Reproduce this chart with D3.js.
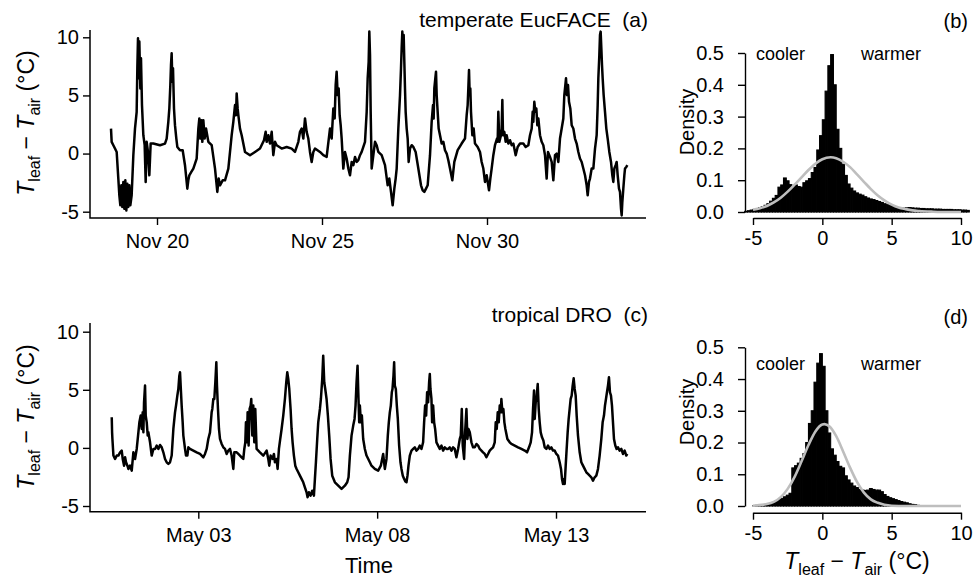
<!DOCTYPE html>
<html>
<head>
<meta charset="utf-8">
<script src="https://cdn.jsdelivr.net/npm/d3@7"></script>
<style>
body { margin: 0; background: #fff; }
svg { font-family: "Liberation Sans", Arial, sans-serif; }
.axis text { font-size: 20px; fill: #000; }
.axis line, .axis path { stroke: #000; stroke-width: 1.4; }
</style>
</head>
<body>
<svg id="svg" width="973" height="578"></svg>
<script>
// (a) temperate EucFACE: day of November (31+ = December), leaf minus air temperature
const eucDay = [18.606, 18.626, 18.677, 18.727, 18.778, 18.828, 18.859, 18.889, 18.919, 18.949, 18.980, 19.010, 19.040, 19.071, 19.101, 19.131, 19.162, 19.192, 19.232, 19.283,
    19.333, 19.384, 19.404, 19.424, 19.444, 19.465, 19.495, 19.515, 19.545, 19.586, 19.626, 19.657, 19.687, 19.727, 19.768, 19.808, 19.889, 20.091, 20.242, 20.293,
    20.343, 20.374, 20.404, 20.424, 20.444, 20.465, 20.485, 20.515, 20.545, 20.586, 20.616, 20.697, 20.778, 20.848, 20.919, 20.949, 20.980, 21.040, 21.101, 21.152,
    21.202, 21.253, 21.283, 21.313, 21.343, 21.374, 21.404, 21.444, 21.485, 21.556, 21.657, 21.758, 21.828, 21.869, 21.909, 21.990, 22.061, 22.162, 22.263, 22.313,
    22.364, 22.394, 22.414, 22.444, 22.465, 22.515, 22.566, 22.667, 22.818, 22.970, 23.121, 23.242, 23.293, 23.323, 23.374, 23.424, 23.475, 23.525, 23.576, 23.626,
    23.778, 23.929, 24.081, 24.182, 24.283, 24.333, 24.384, 24.434, 24.485, 24.535, 24.586, 24.636, 24.687, 24.737, 24.788, 24.939, 25.040, 25.141, 25.242, 25.293,
    25.343, 25.384, 25.414, 25.444, 25.475, 25.505, 25.535, 25.566, 25.596, 25.646, 25.697, 25.747, 25.798, 25.848, 25.899, 25.949, 26.000, 26.051, 26.101, 26.152,
    26.202, 26.253, 26.303, 26.354, 26.384, 26.414, 26.434, 26.455, 26.475, 26.505, 26.556, 26.606, 26.657, 26.707, 26.808, 26.909, 26.990, 27.040, 27.091, 27.141,
    27.192, 27.232, 27.263, 27.313, 27.364, 27.394, 27.414, 27.434, 27.455, 27.475, 27.495, 27.515, 27.535, 27.566, 27.596, 27.626, 27.667, 27.717, 27.768, 27.838,
    27.919, 28.000, 28.051, 28.101, 28.152, 28.202, 28.273, 28.323, 28.364, 28.384, 28.404, 28.434, 28.455, 28.475, 28.505, 28.535, 28.576, 28.626, 28.677, 28.727,
    28.778, 28.828, 28.879, 28.949, 29.010, 29.111, 29.232, 29.333, 29.384, 29.414, 29.434, 29.455, 29.475, 29.495, 29.515, 29.556, 29.596, 29.636, 29.717, 29.788,
    29.838, 29.889, 29.939, 29.990, 30.061, 30.101, 30.141, 30.192, 30.242, 30.303, 30.323, 30.343, 30.374, 30.424, 30.444, 30.465, 30.485, 30.525, 30.566, 30.596,
    30.646, 30.697, 30.747, 30.798, 30.869, 30.929, 31.000, 31.101, 31.172, 31.253, 31.303, 31.354, 31.384, 31.404, 31.434, 31.465, 31.495, 31.525, 31.556, 31.606,
    31.657, 31.707, 31.758, 31.808, 31.848, 31.909, 31.960, 32.010, 32.061, 32.111, 32.162, 32.212, 32.263, 32.313, 32.343, 32.374, 32.394, 32.424, 32.455, 32.485,
    32.525, 32.566, 32.616, 32.667, 32.717, 32.768, 32.818, 32.869, 32.919, 32.970, 33.020, 33.051, 33.091, 33.121, 33.172, 33.222, 33.273, 33.323, 33.354, 33.374,
    33.404, 33.424, 33.444, 33.465, 33.485, 33.505, 33.535, 33.576, 33.616, 33.657, 33.707, 33.758, 33.798, 33.828, 33.859, 33.899, 33.929, 33.960, 34.000, 34.030,
    34.061, 34.081, 34.101, 34.131, 34.162, 34.182, 34.222, 34.253];
const eucDiff = [2.15, 1.01, 0.72, 0.43, 0.14, -2.15, -3.59, -4.45, -2.73, -4.60, -2.44, -4.74, -2.30, -4.89, -2.59, -4.60, -2.73, -4.45, -3.59, -0.14,
    2.15, 3.59, 7.33, 9.91, 6.47, 9.63, 5.60, 8.19, 4.17, 1.58, 0.72, -2.44, 1.01, 0.14, -1.87, 0.86, 0.86, 0.72, 0.86, 1.29,
    2.73, 3.88, 5.89, 7.62, 8.62, 6.18, 7.33, 3.88, 2.44, 1.29, 0.57, 0.29, 0.29, -1.00, -3.02, -2.30, -1.87, -1.58, -1.29, -0.86,
    -0.43, 2.15, 3.02, 1.29, 2.87, 1.01, 2.87, 1.29, 2.15, 1.01, 0.72, -1.29, -3.30, -2.15, -2.73, -2.30, -2.30, -1.29, 1.58, 2.73,
    4.17, 3.30, 5.17, 3.88, 3.30, 2.15, 1.58, 0.14, -0.14, 0.14, 0.43, 1.15, 1.87, 1.01, 1.58, 0.86, 1.87, -0.14, 1.01, 0.72,
    0.43, 0.57, 0.43, 0.14, 1.01, 1.87, 2.15, 1.29, 3.02, 1.87, 1.29, 0.14, -0.72, 0.14, 0.43, 0.14, -0.14, -0.29, 2.15, 1.29,
    3.88, 3.02, 5.89, 7.04, 5.03, 5.60, 3.30, 2.44, 1.29, -1.29, 0.14, -0.43, -1.29, -1.87, -0.72, -1.00, -0.29, -0.72, -0.57, -0.14,
    0.14, 0.57, 1.01, 3.59, 6.47, 7.90, 10.49, 8.48, 3.59, -1.29, -0.14, 1.01, 0.72, 0.14, -0.14, -1.00, -2.73, -2.15, -3.30, -4.45,
    -3.02, -2.15, -1.29, 2.15, 5.03, 7.33, 9.05, 10.49, 9.05, 10.20, 7.90, 5.60, 3.59, 2.15, 1.29, -0.72, 0.43, 0.72, 0.57, 0.14,
    -1.29, -2.73, -3.16, -3.30, -3.02, -2.73, -0.14, 2.73, 4.17, 3.02, 5.60, 6.47, 7.04, 5.03, 3.59, 2.15, 1.58, 0.86, 1.01, 0.29,
    0.00, -0.57, -1.29, -2.30, -0.72, 0.29, 0.86, 1.29, 3.30, 4.17, 5.60, 7.18, 5.03, 5.60, 3.59, 1.58, 2.15, 0.86, 0.57, 0.14,
    -0.72, -1.29, -2.44, -1.87, -3.16, -2.15, -1.29, -0.14, 0.72, 1.29, 1.01, 3.59, 1.01, 1.58, 2.15, 4.60, 1.58, 1.87, 1.01, 1.58,
    0.86, 1.15, 0.72, 0.86, -0.14, 0.57, 0.86, 0.86, 0.57, 0.72, 1.58, 2.15, 3.59, 2.73, 4.45, 3.59, 3.88, 2.44, 3.02, 1.58,
    1.01, 0.72, -0.14, -2.15, 0.14, -0.29, -0.72, -2.30, -0.14, 0.00, -0.72, 1.29, 2.15, 3.02, 5.03, 5.89, 6.47, 5.03, 5.89, 4.45,
    3.88, 2.44, 2.15, 1.29, 0.86, 0.14, -0.43, -0.72, -1.29, -1.87, -2.73, -3.59, -2.44, -2.15, -1.29, -1.29, 0.43, 1.58, 4.17, 6.47,
    8.48, 10.20, 10.49, 9.05, 7.62, 6.47, 5.03, 3.59, 2.15, 1.29, 0.14, -0.72, -1.87, -2.44, -1.29, -1.00, -0.72, -1.87, -3.02, -3.30,
    -4.74, -5.32, -4.17, -3.02, -1.87, -1.29, -1.15, -1.00];

// (c) tropical DRO: day of May (below 1 = end of April)
const droDay = [0.580, 0.590, 0.599, 0.627, 0.673, 0.720, 0.766, 0.813, 0.859, 0.887, 0.925, 0.953, 0.980, 1.018, 1.046, 1.092, 1.139, 1.185, 1.232, 1.278,
    1.316, 1.353, 1.390, 1.418, 1.446, 1.465, 1.483, 1.511, 1.530, 1.558, 1.586, 1.604, 1.651, 1.697, 1.744, 1.791, 1.837, 1.884, 1.930, 1.977,
    2.023, 2.070, 2.116, 2.163, 2.209, 2.256, 2.303, 2.349, 2.377, 2.414, 2.442, 2.470, 2.489, 2.507, 2.535, 2.563, 2.582, 2.629, 2.656, 2.694,
    2.722, 2.768, 2.861, 2.954, 3.048, 3.141, 3.187, 3.234, 3.280, 3.327, 3.373, 3.392, 3.420, 3.448, 3.476, 3.504, 3.522, 3.550, 3.578, 3.606,
    3.653, 3.699, 3.746, 3.792, 3.839, 3.886, 3.932, 3.979, 4.007, 4.072, 4.118, 4.165, 4.211, 4.258, 4.286, 4.314, 4.332, 4.360, 4.379, 4.407,
    4.435, 4.463, 4.481, 4.510, 4.537, 4.565, 4.593, 4.630, 4.677, 4.723, 4.817, 4.910, 4.956, 4.984, 5.021, 5.077, 5.114, 5.142, 5.189, 5.217,
    5.254, 5.291, 5.329, 5.375, 5.422, 5.459, 5.487, 5.515, 5.543, 5.580, 5.608, 5.636, 5.673, 5.711, 5.748, 5.794, 5.841, 5.887, 5.934, 5.980,
    6.027, 6.055, 6.092, 6.139, 6.185, 6.232, 6.260, 6.288, 6.325, 6.353, 6.400, 6.427, 6.465, 6.492, 6.521, 6.549, 6.586, 6.623, 6.660, 6.698,
    6.744, 6.819, 6.912, 7.005, 7.098, 7.163, 7.200, 7.238, 7.284, 7.331, 7.368, 7.396, 7.424, 7.452, 7.470, 7.498, 7.517, 7.545, 7.573, 7.610,
    7.656, 7.703, 7.796, 7.842, 7.935, 8.028, 8.103, 8.168, 8.215, 8.261, 8.298, 8.326, 8.354, 8.382, 8.410, 8.429, 8.457, 8.475, 8.494, 8.522,
    8.550, 8.578, 8.615, 8.652, 8.680, 8.717, 8.755, 8.792, 8.820, 8.848, 8.876, 8.913, 8.960, 9.006, 9.053, 9.099, 9.146, 9.192, 9.239, 9.285,
    9.313, 9.341, 9.369, 9.397, 9.425, 9.453, 9.472, 9.490, 9.518, 9.537, 9.565, 9.593, 9.621, 9.658, 9.704, 9.751, 9.798, 9.844, 9.891, 9.937,
    9.984, 10.030, 10.077, 10.123, 10.170, 10.216, 10.263, 10.310, 10.338, 10.366, 10.393, 10.431, 10.459, 10.496, 10.524, 10.552, 10.589, 10.636, 10.682, 10.729,
    10.775, 10.822, 10.868, 10.915, 10.961, 11.008, 11.054, 11.101, 11.148, 11.194, 11.241, 11.287, 11.315, 11.343, 11.371, 11.399, 11.427, 11.455, 11.473, 11.501,
    11.529, 11.557, 11.585, 11.641, 11.706, 11.753, 11.846, 11.939, 12.032, 12.125, 12.191, 12.246, 12.293, 12.330, 12.358, 12.386, 12.405, 12.433, 12.461, 12.489,
    12.517, 12.544, 12.572, 12.609, 12.647, 12.684, 12.731, 12.777, 12.824, 12.870, 12.917, 12.963, 13.010, 13.056, 13.103, 13.140, 13.168, 13.196, 13.224, 13.243,
    13.271, 13.298, 13.326, 13.354, 13.382, 13.410, 13.438, 13.466, 13.494, 13.522, 13.550, 13.578, 13.615, 13.662, 13.708, 13.755, 13.801, 13.848, 13.894, 13.941,
    13.987, 14.034, 14.081, 14.127, 14.174, 14.220, 14.267, 14.304, 14.341, 14.369, 14.397, 14.425, 14.453, 14.481, 14.509, 14.537, 14.565, 14.593, 14.621, 14.658,
    14.695, 14.733, 14.779, 14.826, 14.872, 14.919, 14.965, 14.993];
const droDiff = [2.63, 1.34, 0.77, -0.66, -0.95, -0.66, -0.66, -0.38, -0.23, -0.95, -1.53, -0.81, -1.24, -1.53, -1.81, -1.53, -1.96, -0.38, -0.95, -0.09,
    1.06, 2.20, 2.78, 1.63, 3.06, 1.34, 3.92, 5.36, 2.78, 2.20, 1.06, 1.34, 0.48, -0.66, -0.09, -0.09, 0.20, -0.09, 0.25, 0.05,
    -0.38, -0.95, -1.24, -1.38, -1.24, -0.66, 1.63, 3.06, 3.64, 4.50, 5.07, 6.22, 6.51, 5.36, 3.64, 2.20, 1.06, -0.09, -0.66, -0.66,
    0.05, -0.09, -0.23, -0.38, -0.52, -0.81, -0.52, -0.09, 0.77, 1.34, 3.06, 3.35, 4.21, 4.21, 5.65, 7.37, 5.36, 3.35, 1.63, 0.77,
    0.34, 0.05, -0.09, -0.52, -0.23, -0.09, -0.66, -1.81, -0.38, -0.38, -0.52, -0.66, -0.81, -0.95, -0.09, 0.48, 2.20, 0.48, 3.06, 0.20,
    3.35, 3.64, 4.21, 1.06, 3.64, 0.48, 3.35, -0.09, -0.23, -0.38, -0.66, -0.23, -0.95, -1.53, -0.66, -0.95, -0.52, -1.24, -0.95, -1.81,
    -0.09, 0.77, 1.63, 2.78, 4.21, 5.65, 6.51, 5.93, 5.07, 3.35, 1.63, 0.48, -0.66, -1.53, -1.81, -2.10, -2.39, -2.67, -2.96, -3.39,
    -3.82, -4.25, -3.82, -4.11, -3.68, -4.11, -2.67, -1.24, 0.77, 2.20, 3.35, 4.21, 5.93, 7.94, 5.65, 5.07, 4.21, 2.78, 1.06, -0.95,
    -2.39, -2.96, -3.25, -3.53, -3.25, -2.96, -2.53, -0.66, 1.06, 1.92, 2.49, 3.64, 5.65, 7.08, 5.07, 2.20, 3.64, 2.20, 2.78, 0.77,
    -0.09, -0.66, -1.24, -1.53, -1.81, -1.96, -1.53, -0.52, -1.81, -0.95, 1.06, 2.20, 3.06, 3.64, 4.79, 5.07, 6.22, 7.37, 5.36, 5.07,
    3.64, 2.49, 0.20, -1.24, -1.81, -2.39, -2.67, -2.90, -2.96, -2.39, -1.53, -0.66, -0.23, -0.09, 0.05, -0.23, -0.09, 0.20, -0.09, 0.48,
    2.20, 3.64, 2.78, 4.79, 3.92, 5.65, 6.36, 5.07, 4.21, 2.20, 3.64, 2.20, 1.63, 0.48, 0.20, -0.09, 0.20, -0.23, 0.05, -0.09,
    -0.09, 0.05, -0.23, 0.05, -0.09, -0.81, -0.09, 0.77, 1.06, 3.35, 0.20, -0.95, 1.34, 3.35, 0.77, 1.63, 1.34, 0.48, 0.05, 0.05,
    0.34, 0.20, -0.09, -0.23, -0.38, -0.52, -0.81, -0.52, -0.23, -0.09, 0.05, 0.48, 2.20, 1.63, 3.06, 2.20, 3.64, 3.06, 4.21, 3.06,
    3.35, 2.20, 1.63, 0.77, 0.48, 0.34, 0.20, 0.05, -0.09, -0.23, -0.38, 0.05, 0.48, 1.34, 3.35, 4.93, 2.49, 3.92, 4.50, 5.50,
    3.35, 2.20, 1.34, 0.91, 0.63, 0.05, -0.09, 0.20, -0.09, 0.05, -0.23, -0.23, -0.52, -0.66, -1.24, -1.81, -2.67, -3.10, -2.67, -3.10,
    -1.53, -0.09, 1.34, 2.49, 3.35, 4.21, 4.50, 5.36, 5.99, 5.07, 4.50, 2.78, 1.06, -0.38, -1.24, -1.53, -1.81, -2.10, -2.24, -2.39,
    -2.53, -2.82, -2.53, -2.39, -1.81, -0.66, 0.77, 2.20, 2.78, 3.64, 4.21, 4.79, 5.36, 6.08, 4.79, 4.50, 3.64, 2.20, 0.77, 0.20,
    -0.09, 0.05, -0.23, -0.09, -0.52, -0.23, -0.66, -0.52];

// histograms: 0.2 degree bins, first bin left edge given
const eucBinStart = -5.6;
const eucDensity = [0.002, 0.004, 0.006, 0.008, 0.011, 0.014, 0.017, 0.021, 0.026, 0.034, 0.043, 0.052, 0.078, 0.085, 0.107, 0.098, 0.086, 0.080, 0.085, 0.080,
    0.078, 0.092, 0.098, 0.105, 0.124, 0.140, 0.195, 0.240, 0.290, 0.380, 0.460, 0.495, 0.400, 0.260, 0.200, 0.150, 0.115, 0.088, 0.075, 0.066,
    0.060, 0.056, 0.053, 0.048, 0.044, 0.041, 0.039, 0.036, 0.033, 0.030, 0.026, 0.023, 0.020, 0.017, 0.015, 0.013, 0.012, 0.012, 0.013, 0.014,
    0.013, 0.012, 0.012, 0.011, 0.011, 0.010, 0.010, 0.010, 0.009, 0.009, 0.009, 0.008, 0.008, 0.008, 0.008, 0.007, 0.007, 0.007, 0.006, 0.006,
    0.005];
const droBinStart = -5.0;
const droDensity = [0.001, 0.002, 0.003, 0.004, 0.005, 0.006, 0.008, 0.012, 0.016, 0.020, 0.024, 0.029, 0.034, 0.040, 0.120, 0.127, 0.135, 0.150, 0.165, 0.200,
    0.260, 0.300, 0.390, 0.450, 0.480, 0.440, 0.300, 0.230, 0.180, 0.160, 0.140, 0.125, 0.120, 0.095, 0.082, 0.072, 0.063, 0.058, 0.052, 0.050,
    0.049, 0.050, 0.055, 0.052, 0.050, 0.050, 0.045, 0.036, 0.030, 0.026, 0.023, 0.020, 0.017, 0.014, 0.012, 0.010, 0.007, 0.005, 0.004, 0.002,
    0.001, 0.001];
const binWidth = 0.2;

// fitted normal curves
const eucFitX = [-5, -4.5, -4, -3.5, -3, -2.5, -2, -1.5, -1, -0.5, 0, 0.6, 1, 1.5, 2, 2.5, 3, 3.5, 4, 4.5, 5, 5.5, 6, 6.5, 7, 8, 9, 10];
const eucFitY = [0.007, 0.012, 0.019, 0.030, 0.045, 0.064, 0.086, 0.109, 0.132, 0.152, 0.166, 0.172, 0.169, 0.158, 0.141, 0.118, 0.095, 0.072, 0.052, 0.036, 0.023, 0.014, 0.009, 0.005, 0.003, 0.001, 0.000, 0.000];
const droFitX = [-5, -4, -3.5, -3, -2.5, -2, -1.5, -1, -0.5, 0, 0.15, 0.5, 1, 1.5, 2, 2.5, 3, 3.5, 4, 5, 6, 7, 8, 9, 10];
const droFitY = [0.001, 0.006, 0.013, 0.028, 0.054, 0.092, 0.141, 0.192, 0.235, 0.257, 0.258, 0.251, 0.220, 0.172, 0.121, 0.076, 0.042, 0.021, 0.010, 0.001, 0.000, 0.000, 0.000, 0.000, 0.000];

const ySeriesTicks = [-5, 0, 5, 10];
const densityTicks = [0, 0.1, 0.2, 0.3, 0.4, 0.5];
const diffTicks = [-5, 0, 5, 10];
const eucTickDays = [20, 25, 30];
const droTickDays = [3, 8, 13];

const svg = d3.select("#svg");
const novBase = Date.UTC(2013, 10, 1),
    mayBase = Date.UTC(2014, 4, 1);
const toDate = (base, d) => new Date(base + (d - 1) * 864e5);
const fmt = d3.utcFormat("%b %d");

function mathLabel(g, size) {
    const sub = Math.round(size * 0.7), drop = Math.round(size * 0.25);
    g.append("tspan").attr("font-style", "italic").text("T");
    g.append("tspan").attr("font-size", sub).attr("dy", drop).text("leaf");
    g.append("tspan").attr("dy", -drop).text("\u00a0\u2212\u00a0");
    g.append("tspan").attr("font-style", "italic").text("T");
    g.append("tspan").attr("font-size", sub).attr("dy", drop).text("air");
    g.append("tspan").attr("dy", -drop).text("\u00a0(\u00b0C)");
}

function seriesPanel(p) {
    const x = d3.scaleUtc().domain([toDate(p.base, p.tickDays[0]), toDate(p.base, p.tickDays[2])]).range([p.x0, p.x1]),
        y = d3.scaleLinear().domain([-5, 10]).range([p.yLow, p.yHigh]);

    const g = svg.append("g");
    g.append("path")
        .attr("d", "M" + p.left + "," + p.top + "V" + p.bottom + "H" + p.right)
        .attr("fill", "none").attr("stroke", "#000").attr("stroke-width", 1.5);

    g.append("g").attr("class", "axis").attr("transform", "translate(" + p.left + ",0)")
        .call(d3.axisLeft(y).tickValues(ySeriesTicks).tickFormat(String).tickSize(7).tickPadding(4))
        .call(a => a.select(".domain").remove());
    g.append("g").attr("class", "axis").attr("transform", "translate(0," + p.bottom + ")")
        .call(d3.axisBottom(x).tickValues(p.tickDays.map(d => toDate(p.base, d))).tickFormat(fmt).tickSize(7).tickPadding(9))
        .call(a => a.select(".domain").remove());

    const line = d3.line()
        .x(i => x(toDate(p.base, p.days[i])))
        .y(i => y(p.vals[i]));
    g.append("path")
        .attr("d", line(d3.range(p.days.length)))
        .attr("fill", "none").attr("stroke", "#000")
        .attr("stroke-width", 2.5).attr("stroke-linejoin", "round");

    g.append("text").attr("x", 648).attr("y", p.titleY).attr("text-anchor", "end")
        .attr("font-size", 21).text(p.title);

    const yl = g.append("text").attr("font-size", 23).attr("text-anchor", "middle")
        .attr("transform", "translate(34," + p.labelY + ") rotate(-90)");
    mathLabel(yl, 23);
}

function histPanel(p) {
    const x = d3.scaleLinear().domain([-5, 10]).range([753, 961]),
        y = d3.scaleLinear().domain([0, 0.5]).range([p.y0, p.y5]);
    const g = svg.append("g");

    g.selectAll("rect").data(p.density).join("rect")
        .attr("x", (d, i) => x(p.start + i * binWidth))
        .attr("width", (d, i) => x(p.start + (i + 1) * binWidth) - x(p.start + i * binWidth))
        .attr("y", d => y(d))
        .attr("height", d => y(0) - y(d))
        .attr("fill", "#000").attr("stroke", "#000").attr("stroke-width", 1.1);

    const fit = d3.line().curve(d3.curveMonotoneX)
        .x(i => x(p.fitX[i])).y(i => y(p.fitY[i]));
    g.append("path").attr("d", fit(d3.range(p.fitX.length)))
        .attr("fill", "none").attr("stroke", "#bebebe").attr("stroke-width", 2.6);

    g.append("g").attr("class", "axis").attr("transform", "translate(745,0)")
        .call(d3.axisLeft(y).tickValues(densityTicks).tickFormat(d3.format(".1f")).tickSize(7).tickPadding(14).tickSizeOuter(0));
    g.append("g").attr("class", "axis").attr("transform", "translate(0," + p.axisY + ")")
        .call(d3.axisBottom(x).tickValues(diffTicks).tickFormat(String).tickSize(7).tickPadding(6).tickSizeOuter(0));

    g.append("text").attr("font-size", 20).attr("text-anchor", "middle")
        .attr("transform", "translate(694," + p.labelY + ") rotate(-90)").text("Density");
    g.append("text").attr("x", 756).attr("y", p.wordY).attr("font-size", 18).text("cooler");
    g.append("text").attr("x", 861).attr("y", p.wordY).attr("font-size", 18).text("warmer");
    g.append("text").attr("x", 968).attr("y", p.tagY).attr("text-anchor", "end").attr("font-size", 20).text(p.tag);
}

seriesPanel({ base: novBase, days: eucDay, vals: eucDiff, tickDays: eucTickDays, x0: 157, x1: 487,
    left: 90, right: 646, top: 30, bottom: 218, yLow: 211.7, yHigh: 37.3,
    title: "temperate EucFACE\u00a0\u00a0(a)", titleY: 27, labelY: 123 });
seriesPanel({ base: mayBase, days: droDay, vals: droDiff, tickDays: droTickDays, x0: 198.3, x1: 556,
    left: 90, right: 646, top: 323, bottom: 511.7, yLow: 506, yHigh: 331.7,
    title: "tropical DRO\u00a0\u00a0(c)", titleY: 322, labelY: 417 });

histPanel({ density: eucDensity, start: eucBinStart, fitX: eucFitX, fitY: eucFitY,
    y0: 212, y5: 53, axisY: 218, labelY: 122, wordY: 60, tagY: 28, tag: "(b)" });
histPanel({ density: droDensity, start: droBinStart, fitX: droFitX, fitY: droFitY,
    y0: 506, y5: 347.3, axisY: 512.7, labelY: 412, wordY: 370, tagY: 324, tag: "(d)" });

svg.append("text").attr("x", 369).attr("y", 573).attr("text-anchor", "middle")
    .attr("font-size", 22).text("Time");
const xl = svg.append("text").attr("x", 857).attr("y", 569).attr("text-anchor", "middle").attr("font-size", 23);
mathLabel(xl, 23);
</script>
</body>
</html>
